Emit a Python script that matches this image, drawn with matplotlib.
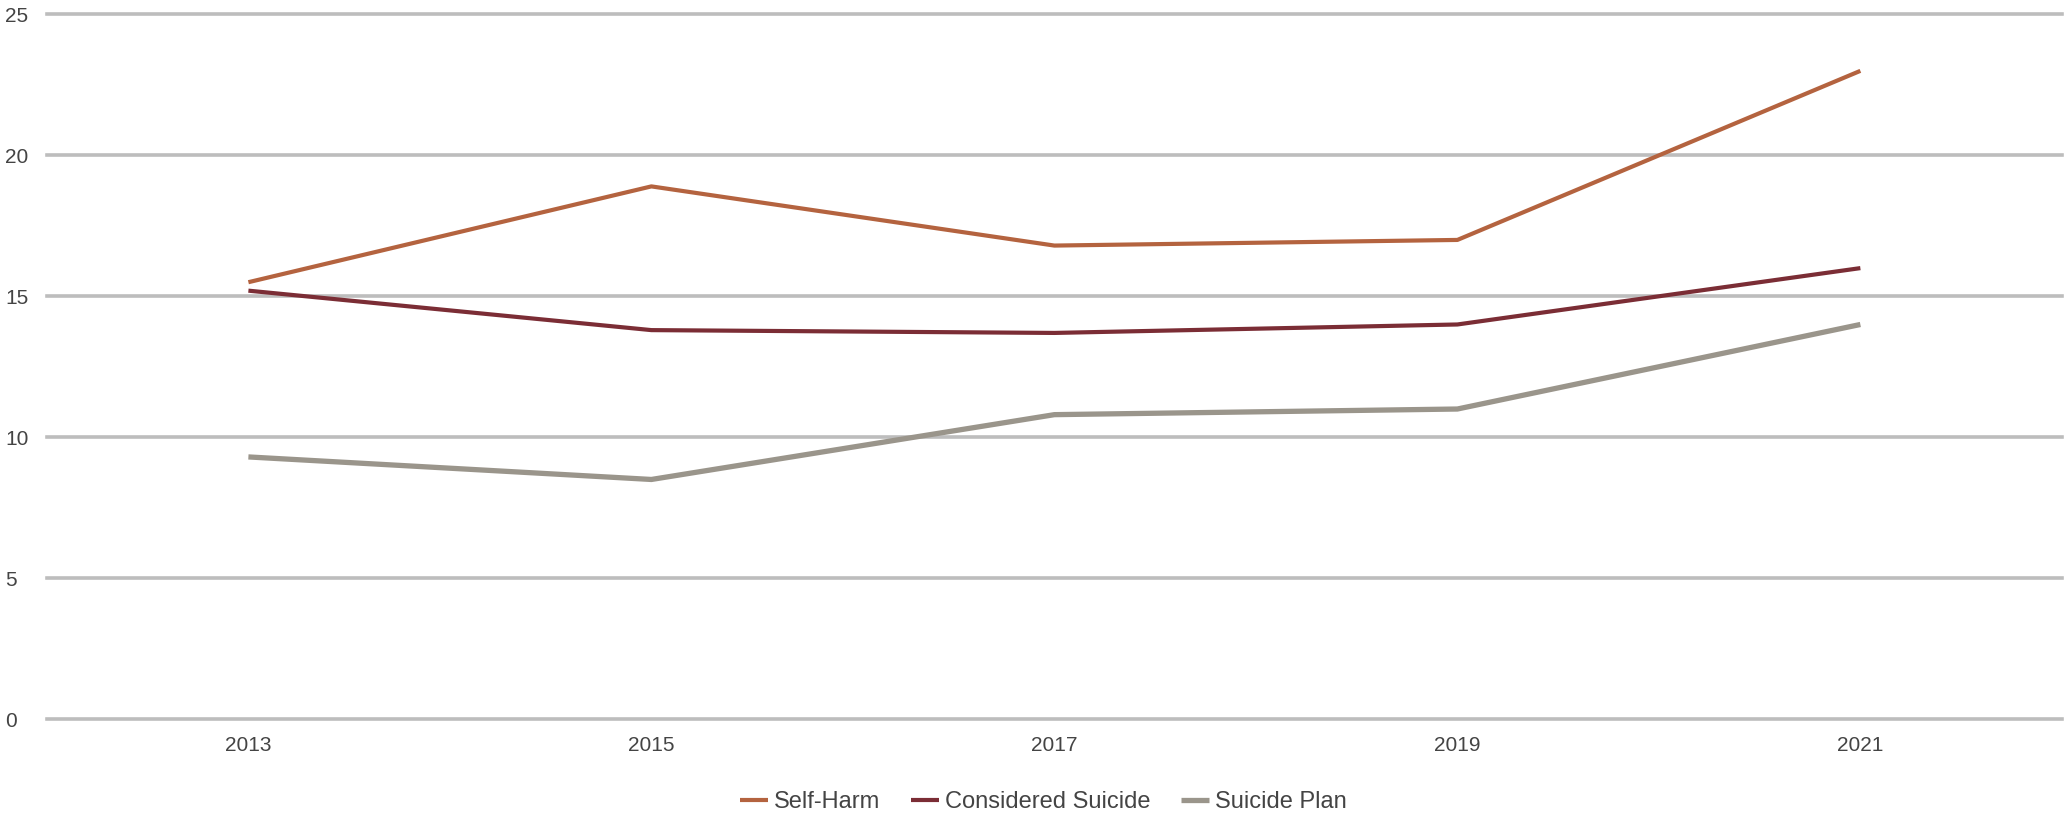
## Self-harm and suicide indicators, 2013-2021
import matplotlib
matplotlib.use('Agg')
import matplotlib.pyplot as plt

## Data
years = [2013, 2015, 2017, 2019, 2021]
self_harm = [15.5, 18.9, 16.8, 17.0, 23.0]
considered_suicide = [15.2, 13.8, 13.7, 14.0, 16.0]
suicide_plan = [9.3, 8.5, 10.8, 11.0, 14.0]
y_ticks = [0, 5, 10, 15, 20, 25]

plt.rcParams['font.family'] = ['Liberation Sans', 'DejaVu Sans']

fig = plt.figure(figsize = (20.66, 8.14), dpi = 100)
ax = fig.add_axes([0.0227, 0.1167, 0.9753, 0.8655])

ax.plot(years, self_harm, color = '#b4633f', lw = 3.0, label = 'Self-Harm',
    solid_capstyle = 'butt', zorder = 4)
ax.plot(years, considered_suicide, color = '#7b2d35', lw = 3.0,
    label = 'Considered Suicide', solid_capstyle = 'butt', zorder = 3)
ax.plot(years, suicide_plan, color = '#9a958b', lw = 3.8, label = 'Suicide Plan',
    solid_capstyle = 'butt', zorder = 2)

ax.set_xlim(2012, 2022)
ax.set_ylim(0, 25)
ax.set_xticks(years)
ax.set_yticks(y_ticks)
ax.set_yticklabels([str(v) for v in y_ticks], ha = 'left')

## Horizontal grid only, no spines
ax.grid(axis = 'y', color = '#bdbdbd', lw = 2.6)
for g in ax.get_ygridlines():
    g.set_clip_on(False)
ax.set_axisbelow(True)
for s in ax.spines.values():
    s.set_visible(False)
ax.tick_params(axis = 'y', length = 0, pad = 30, labelsize = 15, labelcolor = '#444444')
ax.tick_params(axis = 'x', length = 0, pad = 12, labelsize = 15, labelcolor = '#444444')

leg = fig.legend(loc = 'center', bbox_to_anchor = (0.505, 1 - 802 / 814), ncol = 3,
    frameon = False, fontsize = 17, handlelength = 1.2, handletextpad = 0.25,
    columnspacing = 1.3)
for t in leg.get_texts():
    t.set_color('#444444')

fig.savefig('out.png', dpi = 100)
